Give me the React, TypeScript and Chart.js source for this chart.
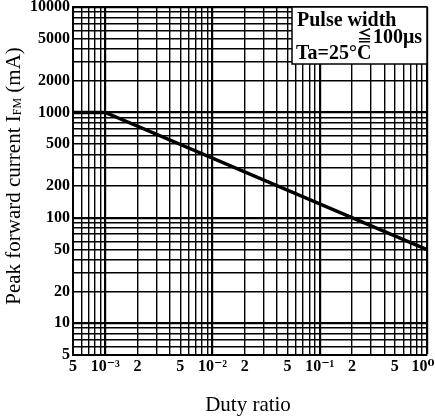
import React, { useEffect, useRef } from 'react';
import { Chart, registerables } from 'chart.js';
Chart.register(...registerables);

// Data
const dutyRatio = [0.0005, 0.001, 1];
const peakCurrent = [1000, 1000, 50];

const xMin = 0.0005;
const xMax = 1;
const yMin = 5;
const yMax = 10000;

const xTickValues = [0.0005, 0.001, 0.002, 0.005, 0.01, 0.02, 0.05, 0.1, 0.2, 0.5, 1];
const xTickLabels = ['5', '10⁻³', '2', '5', '10⁻²', '2', '5', '10⁻¹', '2', '5', '10⁰\u2002'];
const yTickValues = [5, 10, 20, 50, 100, 200, 500, 1000, 2000, 5000, 10000];
const yTickLabels = ['5', '10', '20', '50', '100', '200', '500', '1000', '2000', '5000', '10000'];

const legendLine1 = 'Pulse width';
const legendSymbol = '≦';
const legendLine2 = '100μs';
const legendLine3 = 'Ta=25°C';
const yTitleMain = 'Peak forward current I';
const yTitleSub = 'FM';
const yTitleTail = ' (mA)';
const xTitle = 'Duty ratio';

const SERIF = '"Liberation Serif", "DejaVu Serif", serif';

function logGrid(min: number, max: number) {
  const out: number[] = [];
  for (let e = -5; e <= 5; e++) {
    for (let k = 1; k <= 9; k++) {
      const v = Number((k * Math.pow(10, e)).toPrecision(3));
      if (v >= min * 0.9999 && v <= max * 1.0001) out.push(v);
    }
  }
  return out;
}

function labelFor(values: number[], labels: string[], v: number) {
  for (let i = 0; i < values.length; i++) {
    if (Math.abs(values[i] - v) / values[i] < 1e-6) return labels[i];
  }
  return '';
}

function gridWidth(ctx: any) {
  const v = ctx.tick ? ctx.tick.value : null;
  if (v == null) return 1.3;
  const l = Math.log10(v);
  return Math.abs(l - Math.round(l)) < 1e-6 ? 2.2 : 1.4;
}

const textPlugin = {
  id: 'textPlugin',
  afterDraw(chart: any) {
    const ctx = chart.ctx as CanvasRenderingContext2D;
    const { left, top, right, bottom } = chart.chartArea;
    ctx.save();
    // legend box
    const bw = 135;
    const bh = 57;
    const bx = right - bw;
    const by = top;
    ctx.fillStyle = '#fff';
    ctx.fillRect(bx, by, bw, bh);
    ctx.strokeStyle = '#000';
    ctx.lineWidth = 1.5;
    ctx.strokeRect(bx, by, bw, bh);
    ctx.fillStyle = '#000';
    ctx.font = `bold 20px ${SERIF}`;
    ctx.textBaseline = 'alphabetic';
    ctx.textAlign = 'left';
    ctx.fillText(legendLine1, bx + 5, by + 19);
    ctx.textAlign = 'right';
    const w100 = ctx.measureText(legendLine2).width;
    ctx.fillText(legendLine2, right - 5, by + 36);
    ctx.font = `bold 15px "Noto Sans CJK JP", ${SERIF}`;
    ctx.fillText(legendSymbol, right - 6 - w100, by + 34);
    ctx.font = `bold 20px ${SERIF}`;
    ctx.textAlign = 'left';
    ctx.fillText(legendLine3, bx + 4, by + 52);

    // x title
    ctx.font = `21px ${SERIF}`;
    ctx.textAlign = 'center';
    ctx.textBaseline = 'middle';
    ctx.fillText(xTitle, (left + right) / 2 - 2, bottom + 50);

    // y title with subscript
    ctx.translate(14, (top + bottom) / 2 - 5);
    ctx.rotate(-Math.PI / 2);
    const mainFont = `21px ${SERIF}`;
    const subFont = `12px ${SERIF}`;
    ctx.font = mainFont;
    const w1 = ctx.measureText(yTitleMain).width;
    const w3 = ctx.measureText(yTitleTail).width;
    ctx.font = subFont;
    const w2 = ctx.measureText(yTitleSub).width;
    const total = w1 + w2 + w3;
    let x = -total / 2;
    ctx.textAlign = 'left';
    ctx.textBaseline = 'middle';
    ctx.font = mainFont;
    ctx.fillText(yTitleMain, x, 0);
    x += w1;
    ctx.font = subFont;
    ctx.fillText(yTitleSub, x, 4);
    x += w2;
    ctx.font = mainFont;
    ctx.fillText(yTitleTail, x, 0);
    ctx.restore();
  },
};

export default function App() {
  const ref = useRef<HTMLCanvasElement | null>(null);
  useEffect(() => {
    if (!ref.current) return;
    const chart = new Chart(ref.current, {
      type: 'line',
      data: {
        datasets: [
          {
            data: dutyRatio.map((x, i) => ({ x, y: peakCurrent[i] })),
            borderColor: '#000',
            borderWidth: 3.5,
            pointRadius: 0,
            tension: 0,
            fill: false,
          },
        ],
      },
      options: {
        responsive: false,
        animation: false,
        layout: { padding: { top: 7, right: 8, left: 0, bottom: 0 } },
        plugins: { legend: { display: false }, tooltip: { enabled: false } },
        scales: {
          x: {
            type: 'logarithmic',
            min: xMin,
            max: xMax,
            afterBuildTicks: (scale: any) => {
              scale.ticks = logGrid(xMin, xMax).map((v) => ({ value: v }));
            },
            afterFit: (scale: any) => {
              scale.height = 63;
              scale.paddingLeft = 0;
              scale.paddingRight = 0;
            },
            ticks: {
              autoSkip: false,
              maxRotation: 0,
              minRotation: 0,
              padding: 2,
              color: '#000',
              font: { family: SERIF, size: 16, weight: 'bold' },
              callback: (v: any) => labelFor(xTickValues, xTickLabels, Number(v)),
            },
            grid: { color: '#000', lineWidth: gridWidth, drawTicks: false },
            border: { display: true, color: '#000', width: 2 },
          },
          y: {
            type: 'logarithmic',
            min: yMin,
            max: yMax,
            afterBuildTicks: (scale: any) => {
              scale.ticks = logGrid(yMin, yMax).map((v) => ({ value: v }));
            },
            afterFit: (scale: any) => {
              scale.width = 73;
              scale.paddingTop = 0;
              scale.paddingBottom = 0;
            },
            ticks: {
              autoSkip: false,
              padding: 3,
              color: '#000',
              font: { family: SERIF, size: 16, weight: 'bold' },
              callback: (v: any) => labelFor(yTickValues, yTickLabels, Number(v)),
            },
            grid: { color: '#000', lineWidth: gridWidth, drawTicks: false },
            border: { display: true, color: '#000', width: 2 },
          },
        },
      },
      plugins: [textPlugin],
    } as any);
    return () => chart.destroy();
  }, []);
  return (
    <div style={{ position: 'absolute', left: 0, top: 0, width: 435, height: 418, background: '#fff' }}>
      <canvas ref={ref} width={435} height={418} style={{ display: 'block' }} />
    </div>
  );
}
